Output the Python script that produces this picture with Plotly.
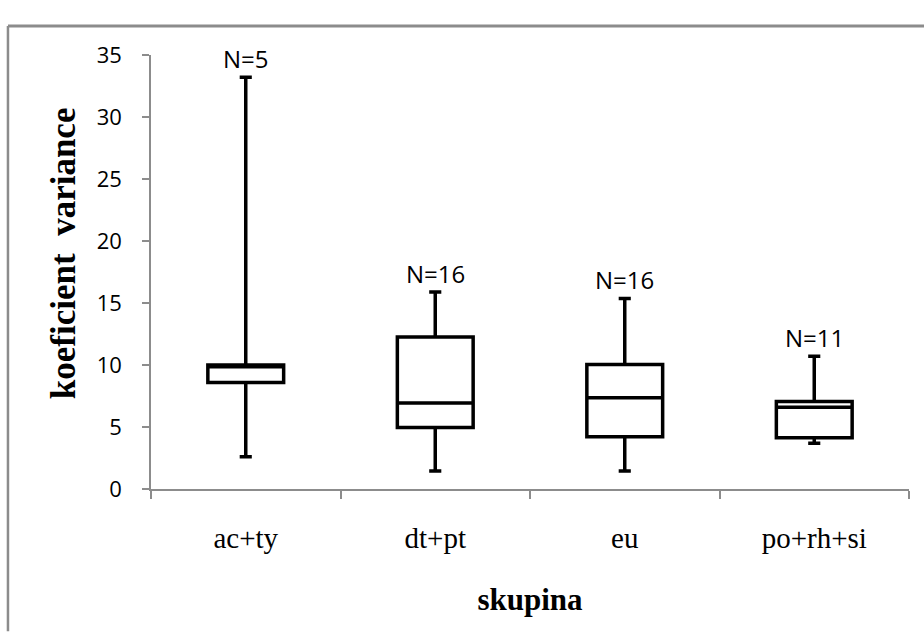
import plotly.graph_objects as go

categories = ["ac+ty", "dt+pt", "eu", "po+rh+si"]
lower_whisker = [2.6, 1.45, 1.45, 3.68]
q1_values = [8.58, 4.95, 4.22, 4.14]
medians = [9.85, 6.94, 7.36, 6.6]
q3_values = [10.0, 12.26, 10.05, 7.05]
upper_whisker = [33.2, 15.89, 15.37, 10.7]
counts = [5, 16, 16, 11]
y_ticks = [0, 5, 10, 15, 20, 25, 30, 35]

fig = go.Figure()
fig.add_trace(go.Box(
    x=categories,
    q1=q1_values,
    median=medians,
    q3=q3_values,
    lowerfence=lower_whisker,
    upperfence=upper_whisker,
    boxpoints=False,
    width=0.4,
    whiskerwidth=0.16,
    fillcolor="white",
    line=dict(color="black", width=3.5),
    hoverinfo="skip",
    showlegend=False,
))

for c, u, n in zip(categories, upper_whisker, counts):
    fig.add_annotation(
        x=c, y=u, text=f"N={n}", showarrow=False,
        yanchor="bottom", yshift=0,
        font=dict(family="Open Sans, Noto Sans, sans-serif", size=24, color="black"),
    )

serif = "Liberation Serif, Times New Roman, serif"

# y-axis title placed as rotated text
fig.add_annotation(
    xref="paper", yref="paper", x=-0.115, y=0.509,
    text="<b>koeficient  variance</b>", textangle=-90, showarrow=False,
    xanchor="center", yanchor="middle",
    font=dict(family=serif, size=35, color="black"),
)

grey = "#8c8c8c"
# outer chart border (top and left edges visible); paper top sits at the border
fig.add_shape(type="line", xref="paper", yref="paper",
              x0=-0.1887, x1=1.0198, y0=1.0, y1=1.0,
              line=dict(color=grey, width=3))
fig.add_shape(type="line", xref="paper", yref="paper",
              x0=-0.1887, x1=-0.1887, y0=-0.307, y1=1.0,
              line=dict(color=grey, width=2.5))

fig.update_layout(
    width=924, height=636,
    margin=dict(l=151, r=15, t=10, b=147),
    paper_bgcolor="white", plot_bgcolor="white",
    xaxis=dict(
        type="category",
        showline=True, linecolor=grey, linewidth=1.5,
        ticks="outside", tickson="boundaries", ticklen=8, tickcolor=grey, tickwidth=1.5,
        showgrid=False, zeroline=False,
        tickfont=dict(family=serif, size=29, color="black"),
        ticklabelstandoff=22,
        title=dict(text="<b>skupina</b>", standoff=36,
                   font=dict(family=serif, size=31, color="black")),
        range=[-0.5, 3.5],
    ),
    yaxis=dict(
        domain=[0, 449 / 479],
        range=[0, 35], tickvals=y_ticks,
        showline=True, linecolor=grey, linewidth=1.5,
        ticks="outside", ticklen=7, tickcolor=grey, tickwidth=1.5,
        showgrid=False, zeroline=False,
        tickfont=dict(family="Open Sans, Noto Sans, sans-serif", size=22, color="black"),
        ticklabelstandoff=16,
    ),
)

fig.write_html("out.html", config={"displayModeBar": False, "displaylogo": False},
               post_script="document.body.style.margin='0';")
